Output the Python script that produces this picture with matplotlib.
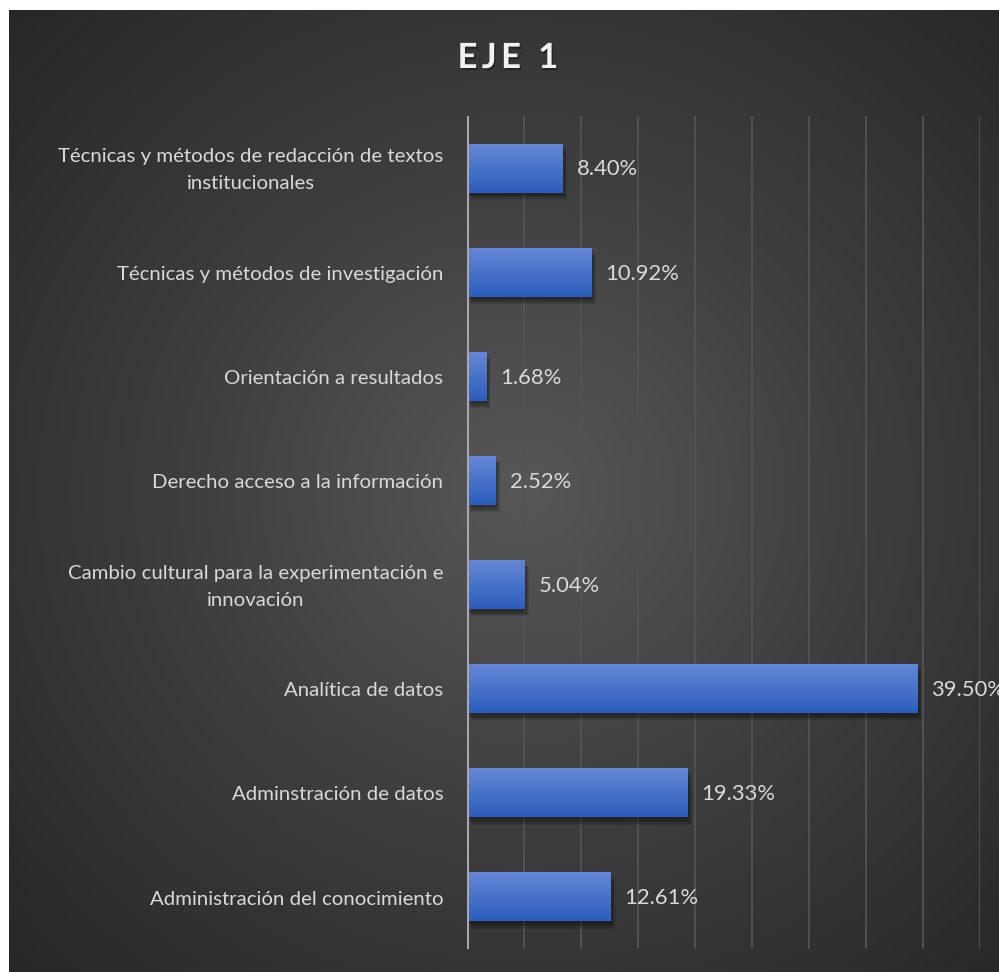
import numpy as np
import matplotlib
matplotlib.use("Agg")
import matplotlib.pyplot as plt
from matplotlib.colors import LinearSegmentedColormap
from matplotlib import patheffects as pe

categories = [
    "Técnicas y métodos de redacción de textos\ninstitucionales",
    "Técnicas y métodos de investigación",
    "Orientación a resultados",
    "Derecho acceso a la información",
    "Cambio cultural para la experimentación e\ninnovación",
    "Analítica de datos",
    "Adminstración de datos",
    "Administración del conocimiento",
]
values = [8.40, 10.92, 1.68, 2.52, 5.04, 39.50, 19.33, 12.61]
title = "E\u2009J\u2009E\u2009 \u20091"

W, H = 999, 972
DPI = 100
FONT = ["Lato", "DejaVu Sans"]
TXT = "#d9d9d9"

fig = plt.figure(figsize=(W / DPI, H / DPI), dpi=DPI, facecolor="white")

# dark radial-gradient chart area
bg = fig.add_axes([9 / W, 0, 1 - 9 / W, 1 - 10 / H])
bg.set_axis_off()
ny, nx = 400, 400
yy, xx = np.mgrid[0:1:ny * 1j, 0:1:nx * 1j]
r = np.sqrt(((xx - 0.52) / 0.75) ** 2 + ((yy - 0.5) / 0.75) ** 2)
r = np.clip(r, 0, 1)
bgmap = LinearSegmentedColormap.from_list("bg", ["#575757", "#3d3d3d", "#272727"])
bg.imshow(r, cmap=bgmap, aspect="auto", extent=[0, 1, 0, 1], origin="lower",
          interpolation="bilinear")
bg.set_xlim(0, 1)
bg.set_ylim(0, 1)

# plot area
x0, x1 = 467, 980
y0, y1 = 116, 949
ax = fig.add_axes([x0 / W, 1 - y1 / H, (x1 - x0) / W, (y1 - y0) / H])
ax.set_facecolor("none")
n = len(categories)
ax.set_xticks(np.arange(0, 46, 5))
ax.xaxis.grid(True, color="#535353", linewidth=1.3)
ax.set_axisbelow(True)
for s in ax.spines.values():
    s.set_visible(False)
ax.tick_params(axis="x", length=0, labelbottom=False)
ax.tick_params(axis="y", length=0, labelleft=False)

ypos = np.arange(n)
# soft drop shadow built from a few faint offset copies
shadow = [pe.SimplePatchShadow(offset=(dx, dy), shadow_rgbFace="black", alpha=0.10)
          for dx, dy in [(0.5, -1.5), (1.2, -2.5), (2.0, -3.5), (2.6, -4.5), (3.0, -5.2)]]
bars = ax.barh(ypos, values, height=0.47, color="#4472c4", zorder=2,
               path_effects=shadow + [pe.Normal()])

barmap = LinearSegmentedColormap.from_list("bar", ["#6487d5", "#2d5ebe"])
grad = np.linspace(0, 1, 64).reshape(-1, 1)
for b in bars:
    bx, by = b.get_x(), b.get_y()
    bw, bh = b.get_width(), b.get_height()
    im = ax.imshow(grad, cmap=barmap, aspect="auto",
                   extent=[bx, bx + bw, by + bh, by], origin="upper",
                   zorder=3, interpolation="bilinear")
    im.set_clip_path(b)
ax.set_xlim(0, 45)
ax.set_ylim(n - 0.5, -0.5)

ax.axvline(0, color="#a8a8a8", linewidth=2.2, zorder=4)

for yv, v in zip(ypos, values):
    ax.annotate(f"{v:.2f}%", (v, yv), xytext=(10, -1), textcoords="offset points",
                ha="left", va="center", color=TXT, fontsize=15.8, family=FONT,
                annotation_clip=False)
    ax.annotate(categories[yv], (0, yv), xytext=(-17, -1.5), textcoords="offset points",
                ha="right", va="center", multialignment="center", color=TXT,
                fontsize=14.7, family=FONT, annotation_clip=False, linespacing=1.7)

fig.text(508 / W, 1 - 58 / H, title, ha="center", va="center", color="#f2f2f2",
         fontsize=25, fontweight="bold", family=FONT,
         path_effects=[pe.withSimplePatchShadow(
             offset=(1, -1.5), shadow_rgbFace="black", alpha=0.35)])

fig.savefig("out.png", dpi=DPI, facecolor="white")
